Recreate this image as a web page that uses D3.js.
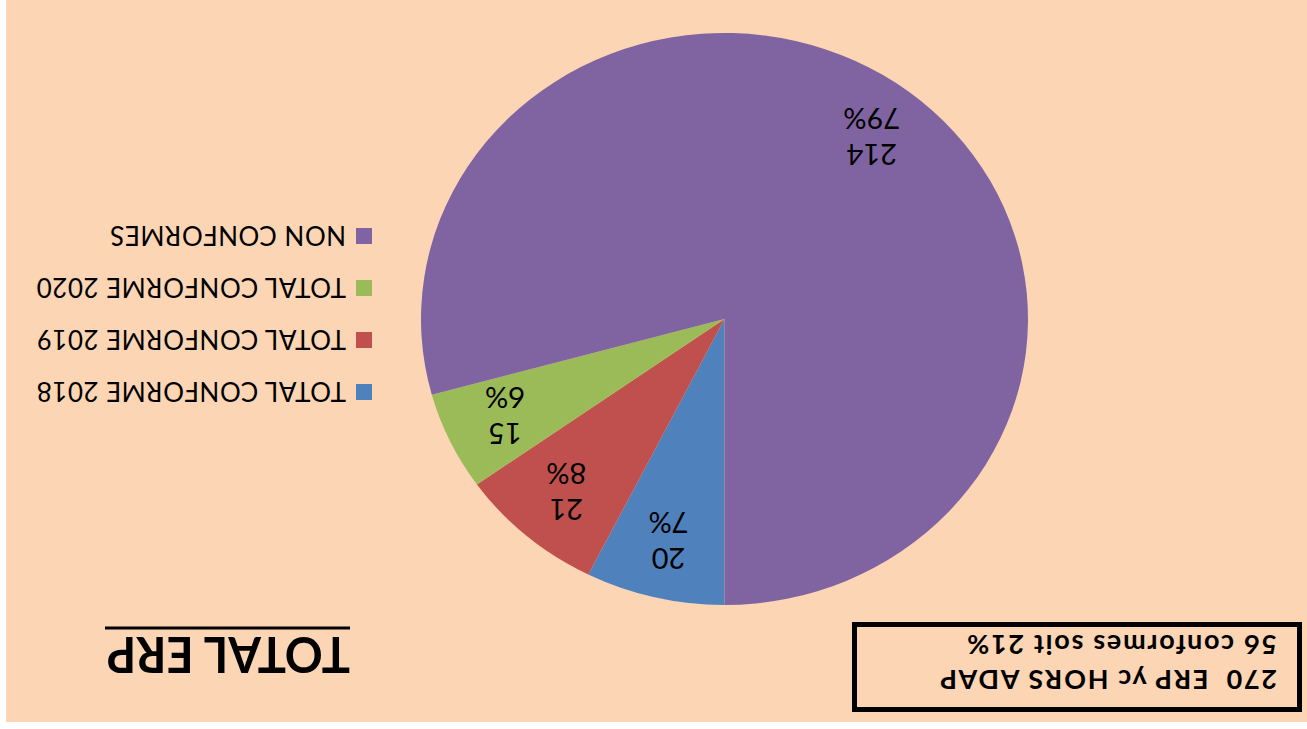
<!DOCTYPE html>
<html>
<head>
<meta charset="utf-8">
<script src="https://cdn.jsdelivr.net/npm/d3@7"></script>
<style>
  body { margin: 0; background: #fff; }
  text { font-family: Lato, "Open Sans", sans-serif; fill: #000; }
</style>
</head>
<body>
<div id="chart"></div>
<script>
// chart data
const categories = ["TOTAL CONFORME 2018", "TOTAL CONFORME 2019", "TOTAL CONFORME 2020", "NON CONFORMES"];
const values = [20, 21, 15, 214];
const colors = ["#4f81bd", "#c0504d", "#9bbb59", "#8064a2"];
const chartTitle = "TOTAL ERP";
const boxLines = ["270  ERP yc HORS ADAP", "56 conformes soit 21%"];

const W = 1307, H = 729;

const svg = d3.select("#chart")
    .append("svg")
    .attr("width", W)
    .attr("height", H);

// the whole picture is upside down
const g = svg.append("g")
    .attr("transform", `rotate(180, ${W / 2}, ${H / 2})`);

g.append("rect")
    .attr("x", 0)
    .attr("y", 7)
    .attr("width", 1301)
    .attr("height", 722)
    .attr("fill", "#fcd5b5");

// pie (slightly stretched horizontally, like the original)
const cx = 582.5, cy = 410, rx = 303.5, ry = 286;
const total = d3.sum(values);

const pie = d3.pie().sort(null).value(d => d.value);
const arcs = pie(categories.map((c, i) => ({ name: c, value: values[i], color: colors[i] })));

const arc = d3.arc().innerRadius(0).outerRadius(ry);

const pieG = g.append("g")
    .attr("transform", `translate(${cx},${cy}) scale(${rx / ry},1)`);

pieG.selectAll("path")
    .data(arcs)
    .enter()
    .append("path")
    .attr("d", arc)
    .attr("fill", d => d.data.color);

// data labels
const labelArc = d3.arc().innerRadius(ry * 0.8).outerRadius(ry * 0.8);
const pct = d3.format(".0%");

const labels = g.append("g")
    .selectAll("g")
    .data(arcs)
    .enter()
    .append("g")
    .attr("transform", d => {
        const c = labelArc.centroid(d);
        return `translate(${cx + c[0] * rx / ry},${cy + c[1]})`;
    });

labels.append("text")
    .attr("text-anchor", "middle")
    .attr("y", -18)
    .attr("dominant-baseline", "central")
    .style("font-size", "29px")
    .text(d => d.data.value);

labels.append("text")
    .attr("text-anchor", "middle")
    .attr("y", 18)
    .attr("dominant-baseline", "central")
    .style("font-size", "29px")
    .text(d => pct(d.data.value / total));

// legend
const legendY = d3.scalePoint()
    .domain(categories)
    .range([337, 493]);

const legend = g.append("g")
    .selectAll("g")
    .data(categories)
    .enter()
    .append("g")
    .attr("transform", d => `translate(935,${legendY(d)})`);

legend.append("rect")
    .attr("x", 0)
    .attr("y", -8)
    .attr("width", 16)
    .attr("height", 16)
    .attr("fill", (d, i) => colors[i]);

legend.append("text")
    .attr("x", 26)
    .attr("y", 0)
    .attr("dominant-baseline", "central")
    .style("font-size", "26px")
    .style("letter-spacing", "0.5px")
    .text(d => d);

// title with underline
g.append("text")
    .attr("x", 957)
    .attr("y", 92)
    .attr("textLength", 243)
    .attr("lengthAdjust", "spacingAndGlyphs")
    .style("font-size", "49px")
    .style("font-weight", "bold")
    .text(chartTitle);

g.append("line")
    .attr("x1", 957)
    .attr("x2", 1202)
    .attr("y1", 101)
    .attr("y2", 101)
    .attr("stroke", "#000")
    .attr("stroke-width", 3);

// framed note
g.append("rect")
    .attr("x", 7.5)
    .attr("y", 19.5)
    .attr("width", 445)
    .attr("height", 85)
    .attr("fill", "none")
    .attr("stroke", "#000")
    .attr("stroke-width", 5);

g.selectAll(".note")
    .data(boxLines)
    .enter()
    .append("text")
    .attr("class", "note")
    .attr("x", 30)
    .attr("y", (d, i) => 59 + i * 35)
    .style("font-size", "27px")
    .style("font-weight", "bold")
    .style("letter-spacing", "1.7px")
    .style("white-space", "pre")
    .text(d => d);
</script>
</body>
</html>
